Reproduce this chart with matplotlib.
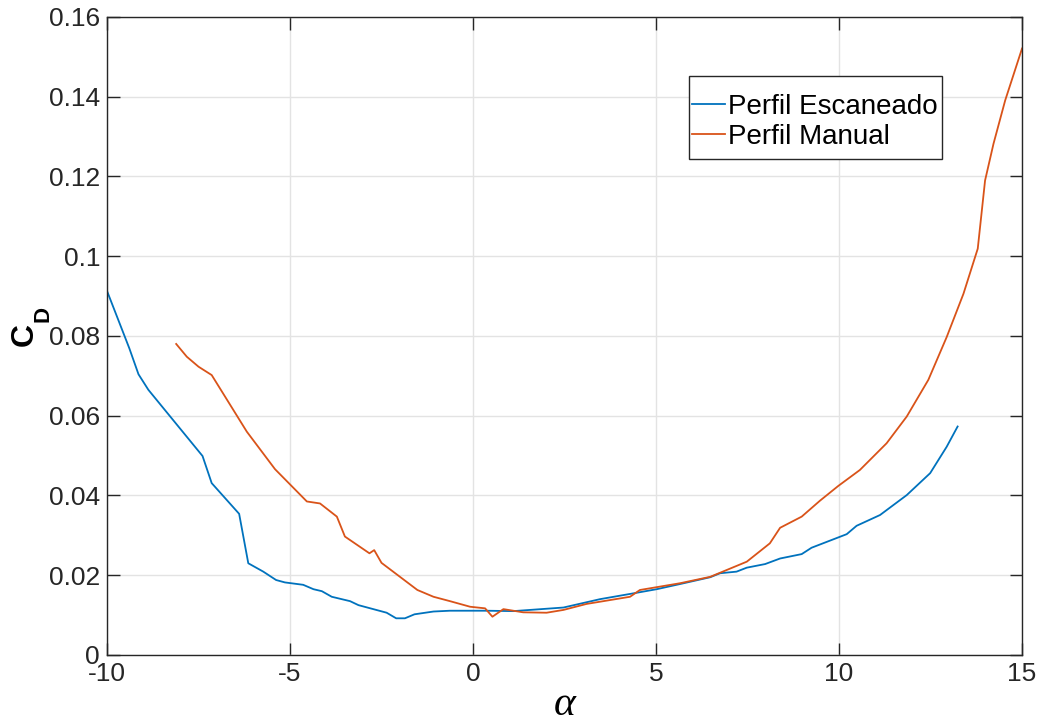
import numpy as np
import matplotlib
matplotlib.use("Agg")
import matplotlib.pyplot as plt
from matplotlib.patches import Rectangle

plt.rcParams['font.family'] = ['Liberation Sans', 'DejaVu Sans']
plt.rcParams['axes.unicode_minus'] = False

# Perfil Escaneado (blue)
alpha_esc = [-10.0, -9.39, -9.14, -8.87, -7.39, -7.14, -6.39, -6.14, -5.73, -5.38,
             -5.14, -4.64, -4.36, -4.13, -3.86, -3.36, -3.13, -2.36, -2.10, -1.86,
             -1.60, -1.08, -0.63, 0.37, 1.10, 2.47, 3.47, 4.47, 5.02, 5.66,
             6.48, 6.75, 7.20, 7.48, 7.98, 8.39, 8.98, 9.25, 10.21, 10.48,
             11.12, 11.85, 12.49, 12.94, 13.24]
cd_esc = [0.0913, 0.0769, 0.0704, 0.0665, 0.0499, 0.0431, 0.0354, 0.0230, 0.0209, 0.0188,
          0.0182, 0.0176, 0.0165, 0.0160, 0.0146, 0.0135, 0.0125, 0.0106, 0.0092, 0.0092,
          0.0102, 0.0109, 0.0111, 0.0111, 0.0110, 0.0119, 0.0140, 0.0156, 0.0165, 0.0178,
          0.0195, 0.0205, 0.0209, 0.0219, 0.0228, 0.0242, 0.0253, 0.0269, 0.0303, 0.0324,
          0.0351, 0.0401, 0.0456, 0.0522, 0.0573]

# Perfil Manual (orange)
alpha_man = [-8.11, -7.82, -7.50, -7.14, -6.18, -5.41, -4.54, -4.18, -3.72, -3.50,
             -2.83, -2.70, -2.50, -1.52, -1.08, -0.63, -0.08, 0.33, 0.53, 0.83,
             1.37, 2.01, 2.47, 3.10, 4.29, 4.56, 5.66, 6.48, 7.48, 8.11,
             8.39, 8.98, 9.48, 9.98, 10.57, 11.30, 11.85, 12.44, 12.94, 13.40,
             13.79, 13.99, 14.22, 14.54, 15.0]
cd_man = [0.0780, 0.0748, 0.0723, 0.0702, 0.0560, 0.0466, 0.0385, 0.0380, 0.0347, 0.0297,
          0.0255, 0.0263, 0.0231, 0.0163, 0.0146, 0.0135, 0.0121, 0.0117, 0.0096, 0.0115,
          0.0107, 0.0106, 0.0113, 0.0128, 0.0146, 0.0163, 0.0180, 0.0196, 0.0234, 0.0280,
          0.0319, 0.0347, 0.0387, 0.0424, 0.0464, 0.0531, 0.0598, 0.0690, 0.0797, 0.0906,
          0.1019, 0.1190, 0.1282, 0.1391, 0.1521]

xticks = [-10, -5, 0, 5, 10, 15]
yticks = [0, 0.02, 0.04, 0.06, 0.08, 0.1, 0.12, 0.14, 0.16]
ytick_labels = ['0', '0.02', '0.04', '0.06', '0.08', '0.1', '0.12', '0.14', '0.16']

W, H = 1043, 720
fig = plt.figure(figsize=(W / 100, H / 100), dpi=100)
ax = fig.add_axes([0.1026, 0.0903, 0.8773, 0.8861])

ax.plot(alpha_esc, cd_esc, color='#0072BD', lw=1.3, label='Perfil Escaneado')
ax.plot(alpha_man, cd_man, color='#D95319', lw=1.3, label='Perfil Manual')

ax.set_xlim(-10, 15)
ax.set_ylim(0, 0.16)
ax.set_xticks(xticks)
ax.set_xticklabels([str(t) for t in xticks])
ax.set_yticks(yticks)
ax.set_yticklabels(ytick_labels)
ax.grid(True, color='#e3e3e3', lw=1.0)
ax.set_axisbelow(True)
ax.tick_params(direction='in', length=9, width=1, colors='#262626', labelsize=19,
               top=True, right=True, pad=5)
for s in ax.spines.values():
    s.set_color('#262626')
    s.set_linewidth(1.0)

# C_D label, MATLAB style (big subscript drop)
fig.text(33 / W, 1 - 346 / H, 'C', rotation=90, rotation_mode='anchor',
         ha='left', va='baseline', fontsize=23, fontweight='bold')
fig.text(48 / W, 1 - 322 / H, 'D', rotation=90, rotation_mode='anchor',
         ha='left', va='baseline', fontsize=16, fontweight='bold')
ax.set_xlabel('α', fontsize=30, family='Liberation Serif', style='italic', labelpad=0)

# legend box drawn by hand, text/handles by the legend
ax.add_patch(Rectangle((0.636, 0.7774), 0.2766, 0.1301, transform=ax.transAxes,
                       facecolor='white', edgecolor='#262626', lw=1.0, zorder=4.9))
leg = ax.legend(loc='upper left', bbox_to_anchor=(0.6393, 0.8790), fontsize=20,
                frameon=False, handlelength=1.2, handletextpad=0.08,
                borderpad=0, labelspacing=0.12, borderaxespad=0)

fig.savefig('out.png', dpi=100)
